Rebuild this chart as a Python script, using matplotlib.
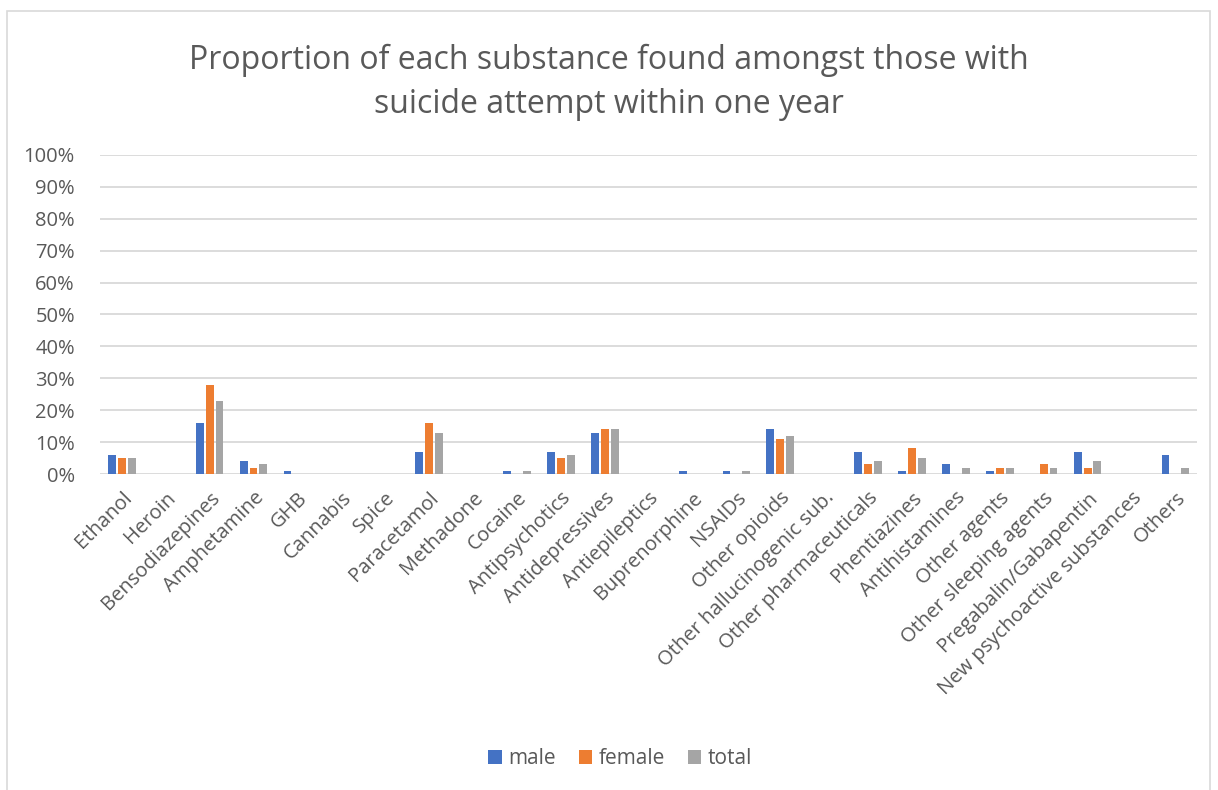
import numpy as np
import matplotlib.pyplot as plt
from matplotlib.patches import Rectangle
from matplotlib.ticker import PercentFormatter

substances = [
    "Ethanol", "Heroin", "Bensodiazepines", "Amphetamine", "GHB", "Cannabis",
    "Spice", "Paracetamol", "Methadone", "Cocaine", "Antipsychotics",
    "Antidepressives", "Antiepileptics", "Buprenorphine", "NSAIDs",
    "Other opioids", "Other hallucinogenic sub.", "Other pharmaceuticals",
    "Phentiazines", "Antihistamines", "Other agents", "Other sleeping agents",
    "Pregabalin/Gabapentin", "New psychoactive substances", "Others",
]
male = [6, 0, 16, 4, 1, 0, 0, 7, 0, 1, 7, 13, 0, 1, 1, 14, 0, 7, 1, 3, 1, 0, 7, 0, 6]
female = [5, 0, 28, 2, 0, 0, 0, 16, 0, 0, 5, 14, 0, 0, 0, 11, 0, 3, 8, 0, 2, 3, 2, 0, 0]
total = [5, 0, 23, 3, 0, 0, 0, 13, 0, 1, 6, 14, 0, 0, 1, 12, 0, 4, 5, 2, 2, 2, 4, 0, 2]

FONT = ["Open Sans", "DejaVu Sans"]
GREY = "#595959"
plt.rcParams["font.family"] = FONT

fig = plt.figure(figsize=(12.18, 7.90), dpi=100)
ax = fig.add_axes([0.082, 0.400, 0.901, 0.404])

x = np.arange(len(substances))
w = 0.18
step = 0.225
series = [("male", male, "#4472C4"), ("female", female, "#ED7D31"), ("total", total, "#A5A5A5")]
for i, (name, vals, col) in enumerate(series):
    ax.bar(x + (i - 1) * step, vals, width=w, color=col, label=name, zorder=3)

ax.set_xlim(-0.5, len(substances) - 0.5)
ax.set_ylim(0, 100)
ax.set_yticks(np.arange(0, 101, 10))
ax.yaxis.set_major_formatter(PercentFormatter(decimals=0))
ax.grid(axis="y", color="#D9D9D9", lw=1.3, zorder=0)
for s in ax.spines.values():
    s.set_visible(False)
ax.tick_params(axis="both", length=0, labelsize=14.5, colors=GREY)
ax.tick_params(axis="y", pad=18)
ax.tick_params(axis="x", pad=10)
ax.set_xticks(x)
ax.set_xticklabels(substances, rotation=45, ha="right", rotation_mode="anchor")

fig.suptitle("Proportion of each substance found amongst those with\nsuicide attempt within one year",
             fontsize=23, color=GREY, y=0.945, linespacing=1.45)

ax.legend(loc="center", bbox_to_anchor=(620 / 1218, 0.04), bbox_transform=fig.transFigure,
          ncol=3, frameon=False, fontsize=15, labelcolor=GREY, handlelength=0.65,
          handleheight=0.65, handletextpad=0.3, columnspacing=1.1)

fig.patches.append(Rectangle((7 / 1218, -0.01), 1203 / 1218, 1 - 11 / 790 + 0.01,
                             transform=fig.transFigure, fill=False, ec="#D9D9D9", lw=1.2))

fig.savefig("out.png", dpi=100)
